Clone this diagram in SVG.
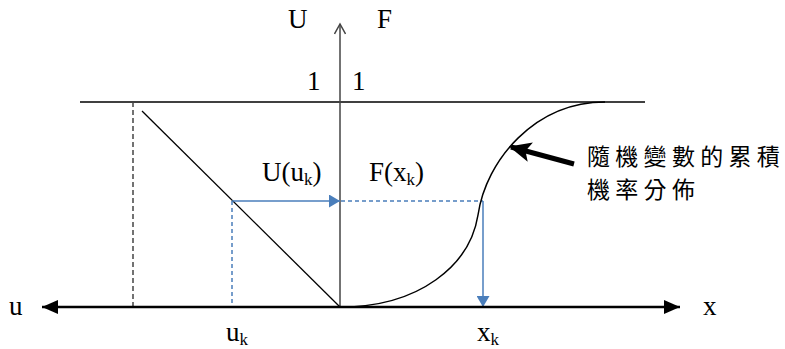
<svg xmlns="http://www.w3.org/2000/svg" width="785" height="349" viewBox="0 0 785 349">
<style>
.t{font-family:"Liberation Serif","Times New Roman",serif;font-size:27px;fill:#000}
.s{font-size:17px}
.cjk{font-family:"Noto Sans CJK TC","Noto Sans CJK SC",sans-serif;font-size:23px;letter-spacing:5.3px;fill:#000;font-weight:400}
.blue{stroke:#4a7ebb;stroke-width:1.5;fill:none}
</style>
<defs>
<marker id="blk" viewBox="0 0 16 14" refX="16" refY="7" markerWidth="16" markerHeight="14" markerUnits="userSpaceOnUse" orient="auto-start-reverse">
<path d="M0,0 L16,7 L0,14 Z" fill="#000"/>
</marker>
<marker id="bl" viewBox="0 0 11 13" refX="11" refY="6.5" markerWidth="11" markerHeight="13" markerUnits="userSpaceOnUse" orient="auto">
<path d="M0,0 L11,6.5 L0,13 Z" fill="#4a7ebb"/>
</marker>
<marker id="open" viewBox="0 0 14 12" refX="12" refY="6" markerWidth="14" markerHeight="12" markerUnits="userSpaceOnUse" orient="auto">
<path d="M2,0.5 L12,6 L2,11.5" fill="none" stroke="#444" stroke-width="1.5"/>
</marker>
<marker id="thick" viewBox="0 0 22 20" refX="20" refY="10" markerWidth="22" markerHeight="20" markerUnits="userSpaceOnUse" orient="auto">
<path d="M0,0 L22,10 L0,20 L5,10 Z" fill="#000"/>
</marker>
</defs>
<g id="connectors">
<line id="top-line" x1="80" y1="102" x2="645" y2="102" stroke="#000" stroke-width="1.5"/>
<line id="v-axis" x1="340" y1="307" x2="340" y2="24" stroke="#444" stroke-width="1.5" marker-end="url(#open)"/>
<line id="dash-left" x1="133" y1="102" x2="133" y2="307" stroke="#444" stroke-width="1.5" stroke-dasharray="5,3"/>
<line id="diag" x1="142" y1="111" x2="340" y2="307" stroke="#000" stroke-width="1.3"/>
<line id="blue-dash-v" x1="232" y1="201" x2="232" y2="307" class="blue" stroke-dasharray="4,3"/>
<line id="blue-arrow-h" x1="232" y1="201" x2="340" y2="201" class="blue" marker-end="url(#bl)"/>
<line id="blue-dash-h" x1="341" y1="201" x2="483" y2="201" class="blue" stroke-dasharray="4,3"/>
<line id="blue-arrow-v" x1="483" y1="201" x2="483" y2="307" class="blue" marker-end="url(#bl)"/>
<path id="cdf" d="M340,307 C420,307 470,265 478,215 C486,160 535,102 605,102" fill="none" stroke="#000" stroke-width="1.5"/>
<line id="h-axis" x1="42" y1="307" x2="680" y2="307" stroke="#000" stroke-width="2.5" marker-start="url(#blk)" marker-end="url(#blk)"/>
<line id="pointer" x1="574" y1="164" x2="511" y2="147" stroke="#000" stroke-width="5" marker-end="url(#thick)"/>
</g>
<g id="labels">
<g id="lbl-U"><text class="t" x="288" y="28">U</text></g>
<g id="lbl-F"><text class="t" x="377" y="28">F</text></g>
<g id="lbl-1a"><text class="t" x="307" y="90">1</text></g>
<g id="lbl-1b"><text class="t" x="352" y="90">1</text></g>
<g id="lbl-Uuk"><text class="t" x="262" y="181">U(u<tspan class="s" dy="4">k</tspan><tspan dy="-4">)</tspan></text></g>
<g id="lbl-Fxk"><text class="t" x="369" y="181">F(x<tspan class="s" dy="4">k</tspan><tspan dy="-4">)</tspan></text></g>
<g id="lbl-u"><text class="t" x="9" y="315">u</text></g>
<g id="lbl-x"><text class="t" x="703" y="315">x</text></g>
<g id="lbl-uk"><text class="t" x="226" y="341">u<tspan class="s" dy="4">k</tspan></text></g>
<g id="lbl-xk"><text class="t" x="477" y="341">x<tspan class="s" dy="4">k</tspan></text></g>
<g id="lbl-cdf">
<text class="cjk" x="587" y="165">隨機變數的累積</text>
<text class="cjk" x="587" y="198">機率分佈</text>
</g>
</g>
</svg>
